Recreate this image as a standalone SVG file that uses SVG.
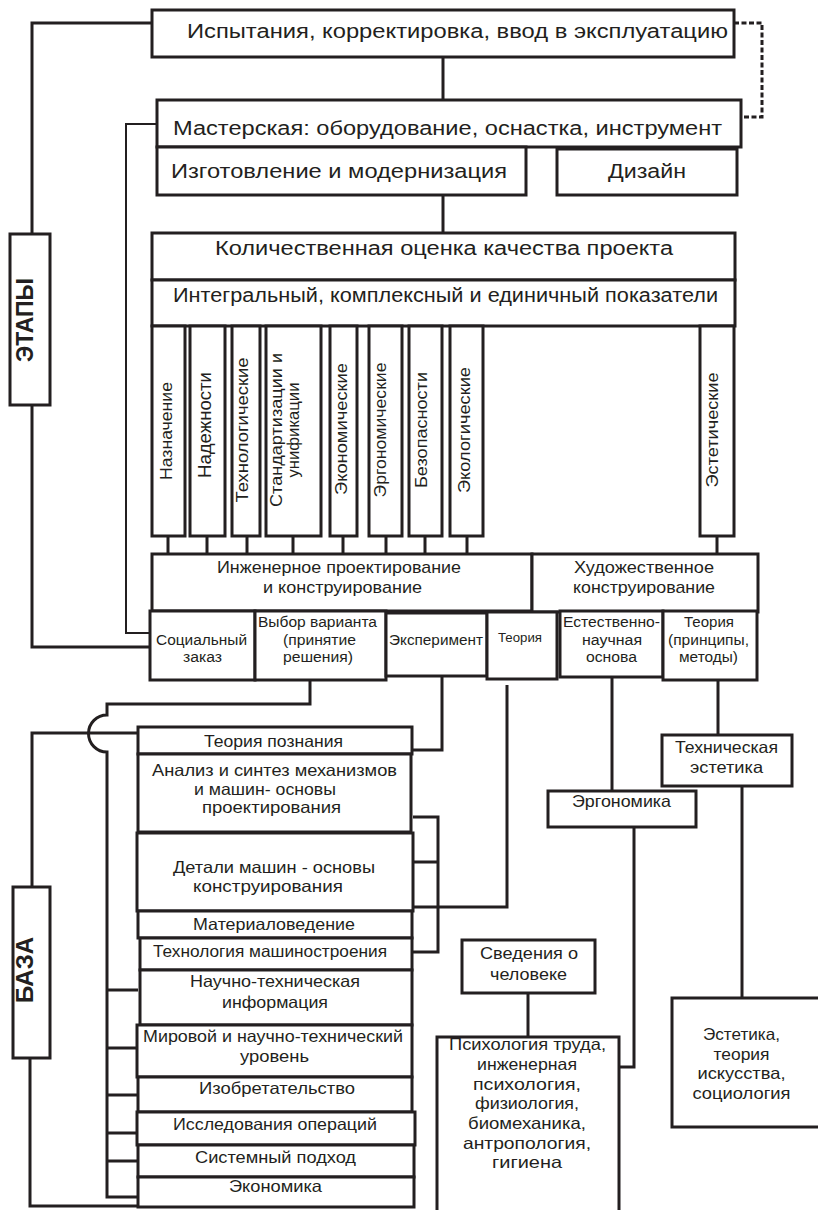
<svg xmlns="http://www.w3.org/2000/svg" width="818" height="1210" viewBox="0 0 818 1210">
<style>
.box{fill:#fff;stroke:#231f20;stroke-width:3}
.ln{fill:none;stroke:#231f20;stroke-width:3}
.thin{stroke-width:2}
.dash{stroke-dasharray:5 2.5}
text{font-family:"Liberation Sans",Arial,sans-serif;fill:#231f20;text-anchor:middle}
.t21{font-size:20px}
.t17{font-size:17px}
.t16{font-size:16.5px}
.t15{font-size:15.5px}
.t13{font-size:13px}
.bold{font-weight:bold;font-size:23px}
</style>
<rect width="818" height="1210" fill="#fff"/>
<g id="connectors">
<path class="ln" d="M152,23 H32 V647 H150"/>
<path class="ln thin" d="M157,124 H126 V633 H150"/>
<path class="ln dash" d="M734,23 H762 V117 H741"/>
<path class="ln" d="M443,57 V100"/>
<path class="ln" d="M443,195 V233"/>
<path class="ln" d="M168,536 V554 M207,536 V554 M247,536 V554 M293,536 V554 M343,536 V554 M386,536 V554 M425,536 V554 M467,536 V554 M717,536 V554"/>
<path class="ln" d="M310,680 V704 H107 V715 A18.5 18.5 0 0 0 107,752 V1197 H138"/>
<path class="ln" d="M107,990 H138 M107,1048 H138 M107,1095 H138 M107,1133 H138 M107,1161 H138"/>
<path class="ln" d="M138,733 H32 V887"/>
<path class="ln" d="M30,1058 V1206 H138"/>
<path class="ln" d="M442,676 V750 H412"/>
<path class="ln" d="M413,817 H438 V952 H413 M413,862 H438"/>
<path class="ln" d="M507,685 V907 H413"/>
<path class="ln" d="M612,677 V791"/>
<path class="ln" d="M634,827 V1067 H619"/>
<path class="ln" d="M718,680 V735"/>
<path class="ln" d="M742,786 V998"/>
<path class="ln" d="M528,993 V1037"/>
</g>
<g id="n-etapy"><rect class="box" x="10" y="234" width="40" height="171"/><text class="bold" transform="translate(33,320) rotate(-90)" textLength="84" lengthAdjust="spacingAndGlyphs">ЭТАПЫ</text></g>
<g id="n-baza"><rect class="box" x="13" y="887" width="37" height="171"/><text class="bold" transform="translate(33,970) rotate(-90)" textLength="66" lengthAdjust="spacingAndGlyphs">БАЗА</text></g>
<g id="n-test"><rect class="box" x="152" y="10" width="582" height="47"/><text class="t21" x="457.5" y="38" textLength="541" lengthAdjust="spacingAndGlyphs">Испытания, корректировка, ввод в эксплуатацию</text></g>
<g id="n-workshop"><rect class="box" x="157" y="100" width="584" height="47"/><text class="t21" x="447.5" y="135" textLength="549" lengthAdjust="spacingAndGlyphs">Мастерская: оборудование, оснастка, инструмент</text></g>
<g id="n-manufacture"><rect class="box" x="157" y="147" width="369" height="48"/><text class="t21" x="339" y="178" textLength="336" lengthAdjust="spacingAndGlyphs">Изготовление и модернизация</text></g>
<g id="n-design"><rect class="box" x="557" y="149" width="180" height="46"/><text class="t21" x="647" y="178" textLength="78" lengthAdjust="spacingAndGlyphs">Дизайн</text></g>
<g id="n-quant"><rect class="box" x="152" y="233" width="583" height="47"/><text class="t21" x="444" y="255" textLength="458" lengthAdjust="spacingAndGlyphs">Количественная оценка качества проекта</text></g>
<g id="n-integral"><rect class="box" x="152" y="280" width="583" height="46"/><text class="t21" x="445.5" y="302" textLength="545" lengthAdjust="spacingAndGlyphs">Интегральный, комплексный и единичный показатели</text></g>
<g id="n-naznach"><rect class="box" x="152" y="326" width="33" height="210"/><text class="t17" transform="translate(172,431) rotate(-90)" textLength="98" lengthAdjust="spacingAndGlyphs">Назначение</text></g>
<g id="n-nadezh"><rect class="box" x="190" y="326" width="35" height="210"/><text class="t17" style="font-size:18px" transform="translate(211,425) rotate(-90)" textLength="106" lengthAdjust="spacingAndGlyphs">Надежности</text></g>
<g id="n-tehnol"><rect class="box" x="232" y="326" width="28" height="210"/><text class="t17" transform="translate(248,430) rotate(-90)" textLength="145" lengthAdjust="spacingAndGlyphs">Технологические</text></g>
<g id="n-standart"><rect class="box" x="266" y="326" width="55" height="210"/><text class="t17" transform="translate(282,430) rotate(-90)" textLength="154" lengthAdjust="spacingAndGlyphs">Стандартизации и</text><text class="t17" transform="translate(299,430) rotate(-90)" textLength="95" lengthAdjust="spacingAndGlyphs">унификации</text></g>
<g id="n-econ"><rect class="box" x="330" y="326" width="27" height="210"/><text class="t17" transform="translate(347,429) rotate(-90)" textLength="132" lengthAdjust="spacingAndGlyphs">Экономические</text></g>
<g id="n-ergo"><rect class="box" x="369" y="326" width="33" height="210"/><text class="t17" transform="translate(386,430) rotate(-90)" textLength="135" lengthAdjust="spacingAndGlyphs">Эргономические</text></g>
<g id="n-bezop"><rect class="box" x="409" y="326" width="33" height="210"/><text class="t17" transform="translate(427,430) rotate(-90)" textLength="116" lengthAdjust="spacingAndGlyphs">Безопасности</text></g>
<g id="n-ekol"><rect class="box" x="450" y="326" width="33" height="210"/><text class="t17" transform="translate(470,430) rotate(-90)" textLength="126" lengthAdjust="spacingAndGlyphs">Экологические</text></g>
<g id="n-estet"><rect class="box" x="700" y="326" width="34" height="210"/><text class="t17" transform="translate(718,430) rotate(-90)" textLength="115" lengthAdjust="spacingAndGlyphs">Эстетические</text></g>
<g id="n-eng"><rect class="box" x="152" y="554" width="380" height="57"/><text class="t17" x="339" y="573" textLength="244" lengthAdjust="spacingAndGlyphs">Инженерное проектирование</text><text class="t17" x="342.5" y="593" textLength="159" lengthAdjust="spacingAndGlyphs">и конструирование</text></g>
<g id="n-art"><rect class="box" x="532" y="554" width="226" height="58"/><text class="t17" x="644" y="573" textLength="140" lengthAdjust="spacingAndGlyphs">Художественное</text><text class="t17" x="644" y="593" textLength="142" lengthAdjust="spacingAndGlyphs">конструирование</text></g>
<g id="n-social"><rect class="box" x="150" y="611" width="105" height="69"/><text class="t15" x="201.5" y="645" textLength="91" lengthAdjust="spacingAndGlyphs">Социальный</text><text class="t15" x="202.5" y="662" textLength="39" lengthAdjust="spacingAndGlyphs">заказ</text></g>
<g id="n-choice"><rect class="box" x="255" y="611" width="131" height="69"/><text class="t15" x="317.5" y="627" textLength="119" lengthAdjust="spacingAndGlyphs">Выбор варианта</text><text class="t15" x="319.5" y="645" textLength="73" lengthAdjust="spacingAndGlyphs">(принятие</text><text class="t15" x="318" y="662" textLength="70" lengthAdjust="spacingAndGlyphs">решения)</text></g>
<g id="n-exp"><rect class="box" x="386" y="613" width="101" height="63"/><text class="t15" x="436" y="645" textLength="94" lengthAdjust="spacingAndGlyphs">Эксперимент</text></g>
<g id="n-theory"><rect class="box" x="487" y="612" width="70" height="67"/><text class="t13" x="520" y="642" textLength="44" lengthAdjust="spacingAndGlyphs">Теория</text></g>
<g id="n-natural"><rect class="box" x="560" y="611" width="103" height="66"/><text class="t15" x="611.5" y="627" textLength="97" lengthAdjust="spacingAndGlyphs">Естественно-</text><text class="t15" x="612" y="645" textLength="60" lengthAdjust="spacingAndGlyphs">научная</text><text class="t15" x="611.5" y="662" textLength="51" lengthAdjust="spacingAndGlyphs">основа</text></g>
<g id="n-theory2"><rect class="box" x="663" y="611" width="94" height="69"/><text class="t15" x="709" y="627" textLength="50" lengthAdjust="spacingAndGlyphs">Теория</text><text class="t15" x="708.5" y="645" textLength="81" lengthAdjust="spacingAndGlyphs">(принципы,</text><text class="t15" x="708.5" y="662" textLength="59" lengthAdjust="spacingAndGlyphs">методы)</text></g>
<g id="n-poznanie"><rect class="box" x="138" y="727" width="274" height="27"/><text class="t16" x="273.5" y="747" textLength="139" lengthAdjust="spacingAndGlyphs">Теория познания</text></g>
<g id="n-analiz"><rect class="box" x="138" y="754" width="273" height="78"/><text class="t16" x="274.5" y="776" textLength="245" lengthAdjust="spacingAndGlyphs">Анализ и синтез механизмов</text><text class="t16" x="265" y="795" textLength="142" lengthAdjust="spacingAndGlyphs">и машин- основы</text><text class="t16" x="271.5" y="813" textLength="139" lengthAdjust="spacingAndGlyphs">проектирования</text></g>
<g id="n-detali"><rect class="box" x="137" y="833" width="276" height="78"/><text class="t16" x="274" y="873" textLength="202" lengthAdjust="spacingAndGlyphs">Детали машин - основы</text><text class="t16" x="268" y="892" textLength="150" lengthAdjust="spacingAndGlyphs">конструирования</text></g>
<g id="n-material"><rect class="box" x="138" y="911" width="274" height="27"/><text class="t16" x="274" y="930" textLength="162" lengthAdjust="spacingAndGlyphs">Материаловедение</text></g>
<g id="n-tehmash"><rect class="box" x="140" y="938" width="272" height="32"/><text class="t16" x="270" y="957" textLength="234" lengthAdjust="spacingAndGlyphs">Технология машиностроения</text></g>
<g id="n-nti"><rect class="box" x="140" y="970" width="272" height="55"/><text class="t16" x="275" y="987" textLength="170" lengthAdjust="spacingAndGlyphs">Научно-техническая</text><text class="t16" x="275" y="1008" textLength="106" lengthAdjust="spacingAndGlyphs">информация</text></g>
<g id="n-mir"><rect class="box" x="137" y="1025" width="275" height="52"/><text class="t16" x="273" y="1042" textLength="260" lengthAdjust="spacingAndGlyphs">Мировой и научно-технический</text><text class="t16" x="274.5" y="1062" textLength="69" lengthAdjust="spacingAndGlyphs">уровень</text></g>
<g id="n-izobr"><rect class="box" x="138" y="1077" width="274" height="35"/><text class="t16" x="277" y="1094" textLength="156" lengthAdjust="spacingAndGlyphs">Изобретательство</text></g>
<g id="n-issled"><rect class="box" x="137" y="1112" width="278" height="33"/><text class="t16" x="275" y="1130" textLength="204" lengthAdjust="spacingAndGlyphs">Исследования операций</text></g>
<g id="n-sistem"><rect class="box" x="138" y="1145" width="276" height="32"/><text class="t16" x="275.5" y="1163" textLength="161" lengthAdjust="spacingAndGlyphs">Системный подход</text></g>
<g id="n-ekonomika"><rect class="box" x="138" y="1177" width="276" height="30"/><text class="t16" x="275.5" y="1192" textLength="93" lengthAdjust="spacingAndGlyphs">Экономика</text></g>
<g id="n-ergonomika"><rect class="box" x="548" y="791" width="148" height="36"/><text class="t16" x="621.5" y="807" textLength="99" lengthAdjust="spacingAndGlyphs">Эргономика</text></g>
<g id="n-tehest"><rect class="box" x="662" y="735" width="130" height="51"/><text class="t16" x="726.5" y="753" textLength="103" lengthAdjust="spacingAndGlyphs">Техническая</text><text class="t16" x="726.5" y="773" textLength="73" lengthAdjust="spacingAndGlyphs">эстетика</text></g>
<g id="n-svedenia"><rect class="box" x="462" y="940" width="133" height="53"/><text class="t16" x="529" y="959" textLength="98" lengthAdjust="spacingAndGlyphs">Сведения о</text><text class="t16" x="528.5" y="980" textLength="77" lengthAdjust="spacingAndGlyphs">человеке</text></g>
<g id="n-psych"><rect class="box" x="437" y="1037" width="182" height="180"/><text class="t16" x="527.5" y="1050" textLength="157" lengthAdjust="spacingAndGlyphs">Психология труда,</text><text class="t16" x="527" y="1070" textLength="100" lengthAdjust="spacingAndGlyphs">инженерная</text><text class="t16" x="527" y="1090" textLength="108" lengthAdjust="spacingAndGlyphs">психология,</text><text class="t16" x="527" y="1109" textLength="104" lengthAdjust="spacingAndGlyphs">физиология,</text><text class="t16" x="527" y="1129" textLength="118" lengthAdjust="spacingAndGlyphs">биомеханика,</text><text class="t16" x="527" y="1149" textLength="128" lengthAdjust="spacingAndGlyphs">антропология,</text><text class="t16" x="527" y="1168" textLength="70" lengthAdjust="spacingAndGlyphs">гигиена</text></g>
<g id="n-estetika"><rect class="box" x="672" y="998" width="160" height="129"/><text class="t16" x="741.5" y="1040" textLength="77" lengthAdjust="spacingAndGlyphs">Эстетика,</text><text class="t16" x="741.5" y="1060" textLength="56" lengthAdjust="spacingAndGlyphs">теория</text><text class="t16" x="741.5" y="1079" textLength="88" lengthAdjust="spacingAndGlyphs">искусства,</text><text class="t16" x="741.5" y="1099" textLength="98" lengthAdjust="spacingAndGlyphs">социология</text></g>
</svg>
